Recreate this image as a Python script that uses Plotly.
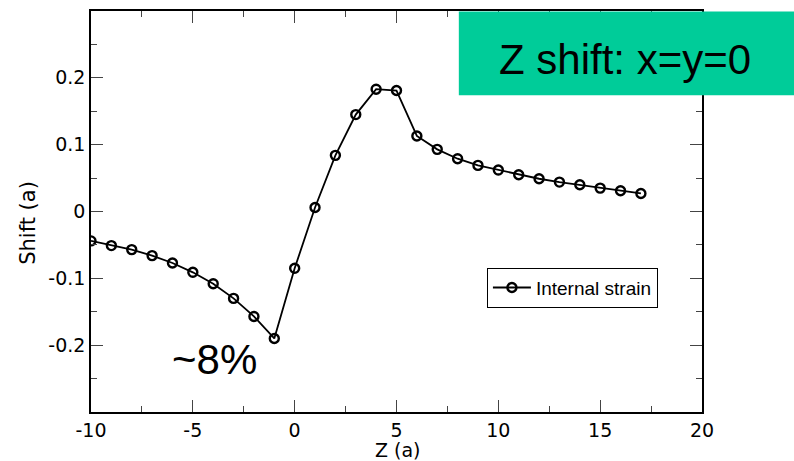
import plotly.graph_objects as go

z_vals = [-10, -9, -8, -7, -6, -5, -4, -3, -2, -1, 0, 1, 2, 3, 4, 5, 6, 7, 8,
          9, 10, 11, 12, 13, 14, 15, 16, 17]
shift_vals = [-0.044, -0.051, -0.057, -0.066, -0.077, -0.091, -0.108, -0.130,
              -0.157, -0.190, -0.085, 0.006, 0.084, 0.145, 0.183, 0.181, 0.113,
              0.093, 0.079, 0.069, 0.062, 0.055, 0.049, 0.044, 0.040, 0.035,
              0.031, 0.027]
series_name = "Internal strain"
x_ticks = [-10, -5, 0, 5, 10, 15, 20]
y_ticks = [-0.2, -0.1, 0, 0.1, 0.2]
y_tick_text = ["-0.2", "-0.1", "0", "0.1", "0.2"]
x_tick_text = ["-10", "-5", "0", "5", "10", "15", "20"]
x_title = "Z (a)"
y_title = "Shift (a)"
box_text = "Z shift: x=y=0"
note_text = "~8%"

ARIAL = "Liberation Sans, Arial, sans-serif"
DEJAVU = "DejaVu Sans, sans-serif"

fig = go.Figure()
fig.add_trace(go.Scatter(
    x=z_vals, y=shift_vals, mode="lines+markers", name=series_name,
    line=dict(color="black", width=1.8),
    marker=dict(symbol="circle-open", size=9, color="black",
                line=dict(color="black", width=2.4)),
))

axis_common = dict(
    showline=True, linecolor="black", linewidth=1.5, mirror="ticks",
    ticks="inside", tickcolor="#444", tickwidth=1.2, ticklen=12,
    showgrid=False, zeroline=False,
    tickfont=dict(family=DEJAVU, size=19, color="black"),
)

fig.update_xaxes(
    range=[-10, 20], tickvals=x_ticks, ticktext=x_tick_text,
    minor=dict(ticks="inside", ticklen=6, dtick=2.5, tick0=0, tickcolor="#444",
               tickwidth=1.2, showgrid=False),
    **axis_common,
)
fig.update_yaxes(
    range=[-0.3, 0.3], tickvals=y_ticks, ticktext=y_tick_text,
    minor=dict(ticks="inside", ticklen=6, dtick=0.05, tick0=0, tickcolor="#444",
               tickwidth=1.2, showgrid=False),
    **axis_common,
)

# axis titles
fig.add_annotation(xref="paper", yref="paper", x=0.503, y=-0.0955,
                   text=x_title, showarrow=False,
                   font=dict(family=DEJAVU, size=19, color="black"),
                   xanchor="center", yanchor="middle", borderpad=0)
fig.add_annotation(xref="paper", yref="paper", x=-0.1036, y=0.471,
                   text=y_title, showarrow=False, textangle=-90,
                   font=dict(family=DEJAVU, size=21, color="black"),
                   xanchor="center", yanchor="middle")

fig.add_shape(type="rect", xref="paper", yref="paper",
              x0=0.602, x1=1.16, y0=0.790, y1=0.999,
              fillcolor="#00CC99", line=dict(width=0), layer="above")
fig.add_annotation(xref="paper", yref="paper", x=0.874, y=0.879,
                   text=box_text, showarrow=False,
                   font=dict(family=ARIAL, size=42, color="black"),
                   xanchor="center", yanchor="middle")
fig.add_annotation(xref="paper", yref="paper", x=0.2025, y=0.131,
                   text=note_text, showarrow=False,
                   font=dict(family=ARIAL, size=42, color="black"),
                   xanchor="center", yanchor="middle")

fig.update_layout(
    width=794, height=461,
    margin=dict(l=91, r=92, t=9, b=49),
    paper_bgcolor="white", plot_bgcolor="white",
    showlegend=True,
    legend=dict(x=0.648, y=0.36, xanchor="left", yanchor="top",
                bordercolor="black", borderwidth=1, bgcolor="white",
                font=dict(family=ARIAL, size=19, color="black"),
                itemwidth=38, tracegroupgap=0),
)

fig.write_html("out.html")
